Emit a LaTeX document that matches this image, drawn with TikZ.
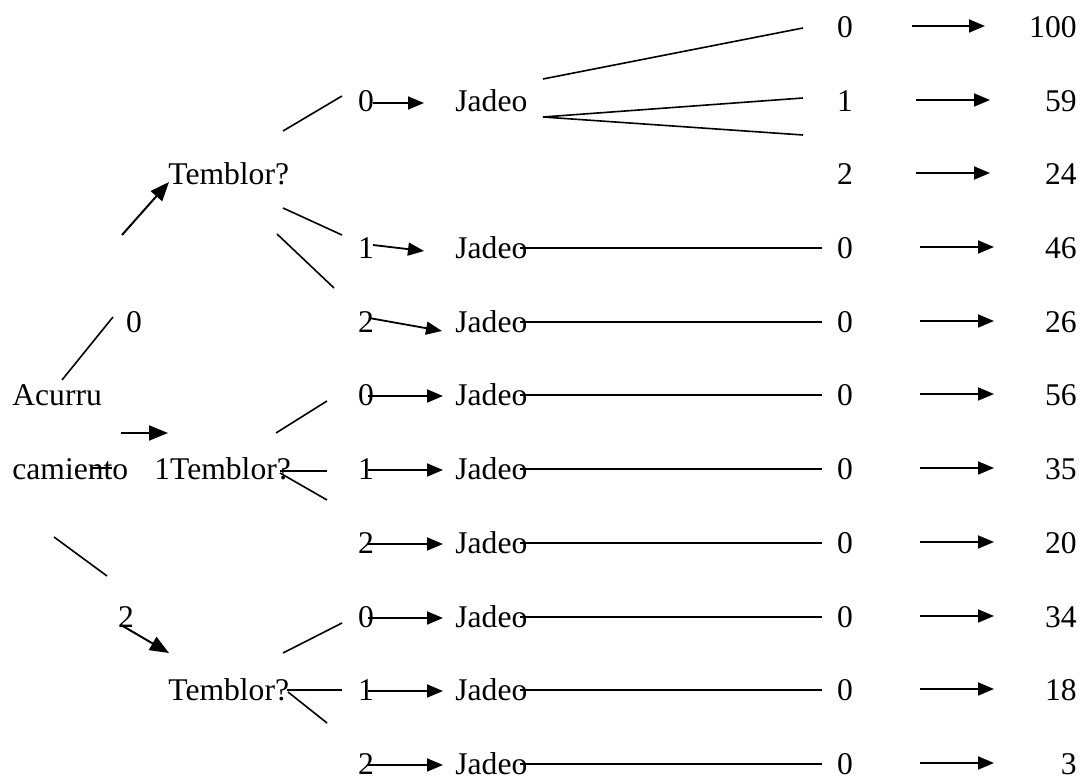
\documentclass[tikz,border=0pt]{standalone}
\usepackage{fontspec}
\setmainfont{Liberation Serif}
\usetikzlibrary{arrows.meta,calc}
\begin{document}
\begin{tikzpicture}[x=0.5pt,y=-0.5pt,
  txt/.style={font=\fontsize{15.8}{18}\selectfont, inner sep=0pt},
  ln/.style={line width=0.8pt},
  arr/.style={line width=0.9pt, -{Triangle[length=8pt,width=6.5pt]}},
  bigarr/.style={line width=1pt, -{Triangle[length=9.5pt,width=7.5pt]}}]
\useasboundingbox (0,0) rectangle (1082,779);
% root and level-1 nodes
\node[txt,anchor=base west] (acu) at (12,406) {Acurru};
\node[txt,anchor=base west] (cam) at (12,480) {camiento};
\node[txt,anchor=base] (b0) at (134,333) {0};
\node[txt,anchor=base] (b2) at (126,628) {2};
\node[txt,anchor=base west] (tA) at (168,185) {Temblor?};
\node[txt,anchor=base west] (tB) at (154,480) {1Temblor?};
\node[txt,anchor=base west] (tC) at (168,701) {Temblor?};
% root connectors
\coordinate (r1a) at (62,380); \coordinate (r1b) at (113,317);
\draw[ln] (r1a) -- (r1b);
\coordinate (r2a) at (122,235); \coordinate (r2b) at (169,182);
\draw[bigarr] (r2a) -- (r2b);
\coordinate (r3a) at (121,433); \coordinate (r3b) at (168,433);
\draw[bigarr] (r3a) -- (r3b);
\coordinate (r4a) at (92,468); \coordinate (r4b) at (112,468);
\draw[ln] (r4a) -- (r4b);
\coordinate (r5a) at (54,537); \coordinate (r5b) at (107,576);
\draw[ln] (r5a) -- (r5b);
\coordinate (r6a) at (121,625); \coordinate (r6b) at (169,653);
\draw[bigarr] (r6a) -- (r6b);
% Temblor branches
\coordinate (ta1) at (283,131); \coordinate (ta1e) at (342,96);
\coordinate (ta2) at (283,208); \coordinate (ta2e) at (342,235);
\coordinate (ta3) at (277,234); \coordinate (ta3e) at (334,288);
\draw[ln] (ta1) -- (ta1e); \draw[ln] (ta2) -- (ta2e); \draw[ln] (ta3) -- (ta3e);
\coordinate (tb1) at (276,433); \coordinate (tb1e) at (327,401);
\coordinate (tb2) at (280,471); \coordinate (tb2e) at (327,471);
\coordinate (tb3) at (280,473); \coordinate (tb3e) at (327,500);
\draw[ln] (tb1) -- (tb1e); \draw[ln] (tb2) -- (tb2e); \draw[ln] (tb3) -- (tb3e);
\coordinate (tc1) at (283,653); \coordinate (tc1e) at (342,623);
\coordinate (tc2) at (287,690); \coordinate (tc2e) at (342,690);
\coordinate (tc3) at (288,692); \coordinate (tc3e) at (327,723);
\draw[ln] (tc1) -- (tc1e); \draw[ln] (tc2) -- (tc2e); \draw[ln] (tc3) -- (tc3e);
% level-2 labels and Jadeo
\foreach \i/\y/\lab in {1/102/0,3/249/1,4/323/2,5/396/0,6/470/1,7/544/2,8/618/0,9/691/1,10/765/2}{
  \node[txt,anchor=base] (l\i) at (366,\y+10) {\lab};
  \node[txt,anchor=base west] (jd\i) at (455,\y+10) {Jadeo};
}
% level-2 arrows
\coordinate (a1s) at (373,103); \coordinate (a1e) at (424,103);
\coordinate (a3s) at (373,245); \coordinate (a3e) at (424,251);
\coordinate (a4s) at (369,318); \coordinate (a4e) at (442,331);
\draw[arr] (a1s) -- (a1e); \draw[arr] (a3s) -- (a3e); \draw[arr] (a4s) -- (a4e);
\foreach \i/\y in {5/396,6/470,7/544,8/618,9/691,10/765}{
  \coordinate (a\i s) at (368,\y);
  \coordinate (a\i e) at (443,\y);
  \draw[arr] (a\i s) -- (a\i e);
}
% right column
\foreach \i/\y/\lab/\num/\xs/\xe in {0/28/0/100/912/985,1/102/1/59/916/990,2/175/2/24/916/990,
  3/249/0/46/920/994,4/323/0/26/920/994,5/396/0/56/920/994,6/470/0/35/920/994,
  7/544/0/20/920/994,8/618/0/34/920/994,9/691/0/18/920/994,10/765/0/3/920/994}{
  \node[txt,anchor=base] (rc\i) at (845,\y+10) {\lab};
  \node[txt,anchor=base east] (nm\i) at (1077,\y+10) {\num};
  \coordinate (ra\i) at (\xs,\y-2);
  \coordinate (rb\i) at (\xe,\y-2);
  \draw[arr] (ra\i) -- (rb\i);
}
% Jadeo row 1 fan
\coordinate (f0) at (543,79); \coordinate (f0e) at (803,28);
\coordinate (f1) at (543,117); \coordinate (f1e) at (803,98);
\coordinate (f2e) at (803,135);
\draw[ln] (f0) -- (f0e); \draw[ln] (f1) -- (f1e); \draw[ln] (f1) -- (f2e);
% Jadeo horizontal lines
\foreach \i/\y in {3/249,4/323,5/396,6/470,7/544,8/618,9/691,10/765}{
  \coordinate (h\i s) at (520,\y-1);
  \coordinate (h\i e) at (822,\y-1);
  \draw[ln] (h\i s) -- (h\i e);
}
\end{tikzpicture}
\end{document}
